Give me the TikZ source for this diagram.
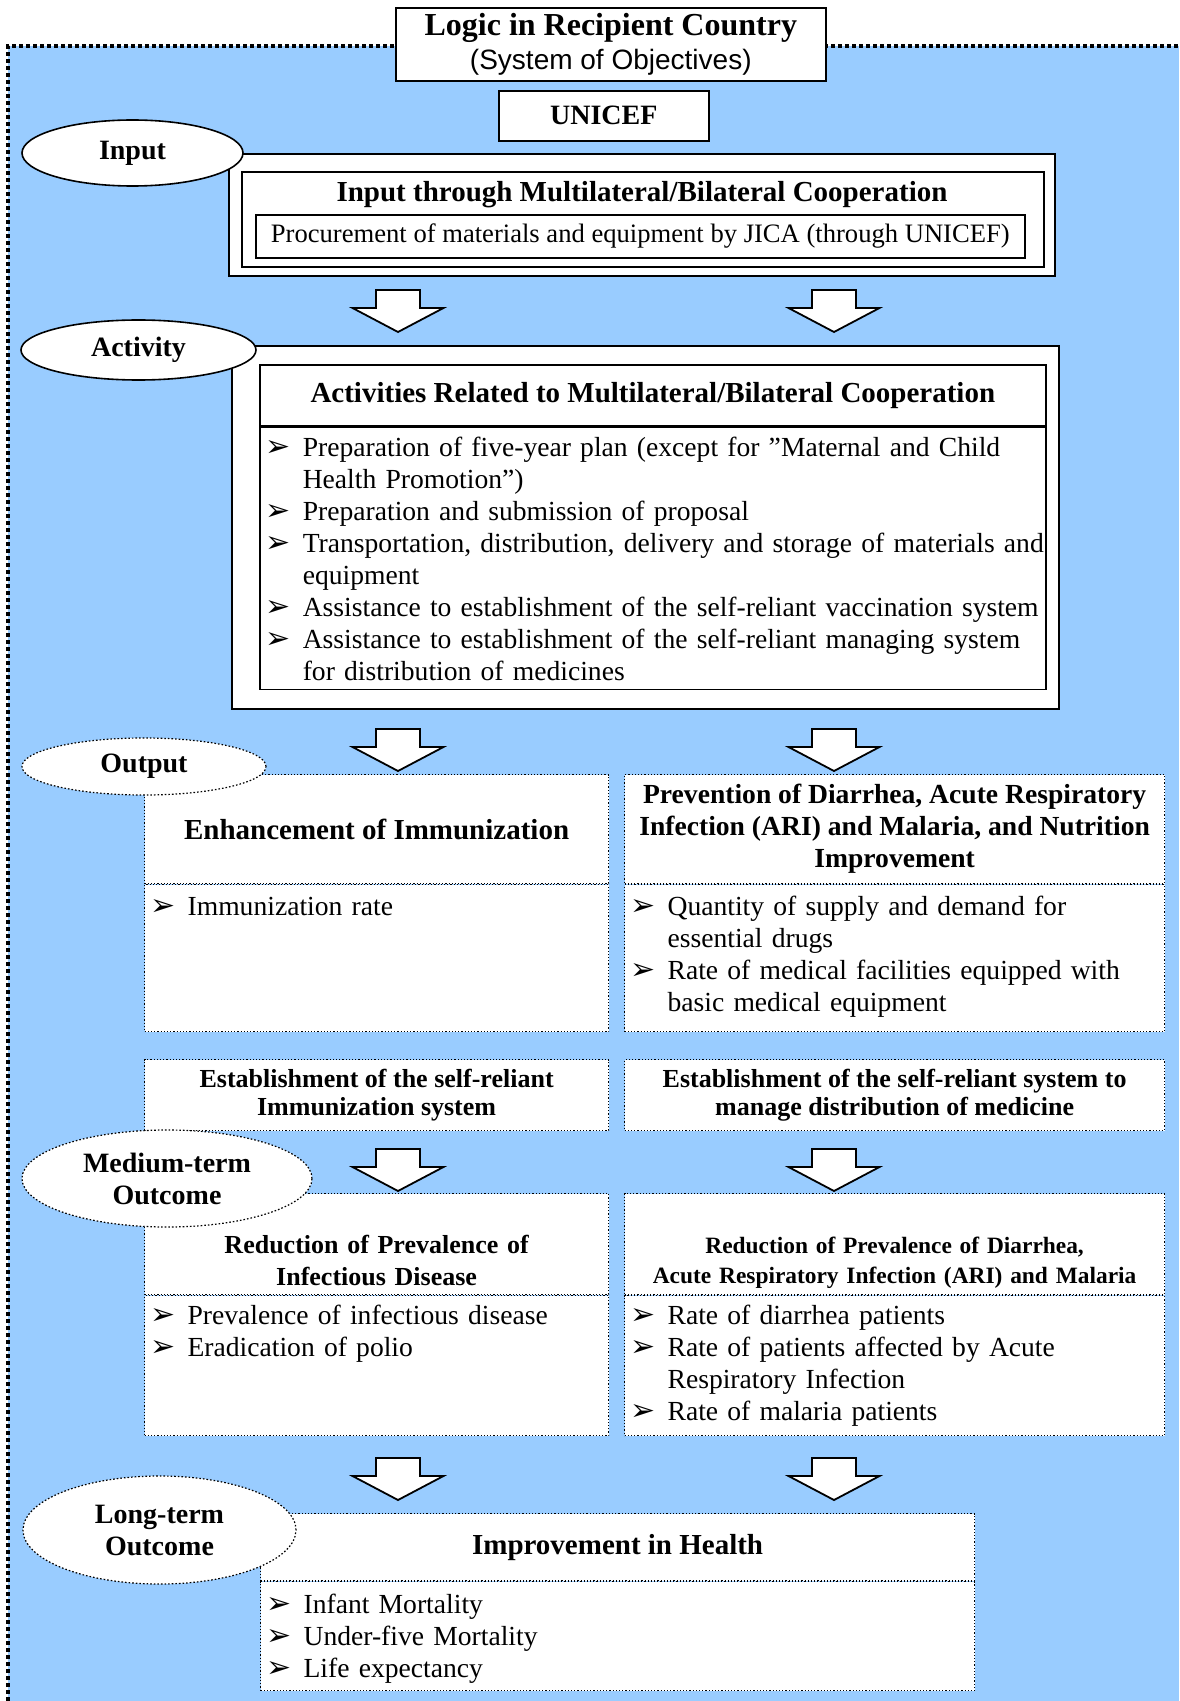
\documentclass[tikz,border=0pt]{standalone}
\usepackage{fontspec}
\setmainfont{Liberation Serif}
\setsansfont{Liberation Sans}
\newfontfamily\dingfont{DejaVu Sans}
\usepackage{xcolor}
\usepackage{tikz}
\usetikzlibrary{shapes, positioning, calc}

\definecolor{skyblue}{HTML}{99CCFF}

% bullet item with hanging indent, one paragraph per item
\newcommand{\itm}[1]{\noindent\hangindent=21.5pt\hangafter=1\rightskip=-30pt plus 1fil%
  \makebox[21.5pt][l]{\hspace{3pt}{\dingfont\fontsize{15}{15}\selectfont ➢}}#1\par}

\begin{document}
\begin{tikzpicture}[
        x=1pt, y=-1pt,
        every node/.style={font=\fontsize{13.8}{16}\selectfont},
        solidbox/.style={rectangle, draw, line width=0.8pt, fill=white, anchor=north west, inner sep=0pt},
        dotbox/.style={rectangle, draw, densely dotted, line width=0.6pt, fill=white, anchor=north west, inner sep=0pt},
        headtext/.style={font=\fontsize{14.5}{16}\selectfont\bfseries, align=center},
        itemlist/.style={align=left, text height=15.5pt},
        stagetag/.style={ellipse, draw, line width=0.8pt, fill=white, inner sep=0pt, align=center, font=\fontsize{14}{16}\selectfont\bfseries},
        dstagetag/.style={stagetag, densely dotted, line width=0.6pt},
        blockarrow/.pic={\draw [line width=0.9pt, fill=white] (-11,0) -- (11,0) -- (11,9) -- (22.75,9) -- (0,21) -- (-22.75,9) -- (-11,9) -- cycle;}
    ]

    \useasboundingbox (0,0) rectangle (589.5,850.5);
    \fill [skyblue] (4,23) rectangle (589.5,850.5);
    \draw [line width=2pt, dash pattern=on 2pt off 1.5pt] (4,850.5) -- (4,23) -- (589.5,23);

    % title
    \node [solidbox, align=center, minimum width=215pt, minimum height=36.5pt] (logic) at (197.5,3.5)
        {{\fontsize{16}{17}\selectfont\bfseries Logic in Recipient Country}\\[1pt]{\fontsize{14}{16}\selectfont\sffamily (System of Objectives)}};
    \node [solidbox, font=\fontsize{14}{16}\selectfont\bfseries, minimum width=105pt, minimum height=25pt] (unicef) at (249,45) {UNICEF};

    % input
    \node [solidbox, minimum width=413pt, minimum height=61pt] (inbox) at (114,76.5) {};
    \node [solidbox, minimum width=401pt, minimum height=47.5pt] (inmid) at (120.5,85.5) {};
    \node [headtext] (intitle) at (321,97.5) {Input through Multilateral/Bilateral Cooperation};
    \node [solidbox, font=\fontsize{13.3}{16}\selectfont, minimum width=384.5pt, minimum height=21.5pt] (inproc) at (127.5,107)
        {Procurement of materials and equipment by JICA (through UNICEF)};

    % activity
    \node [solidbox, minimum width=413.5pt, minimum height=181.5pt] (actbox) at (115.5,172.5) {};
    \node [solidbox, headtext, minimum width=393pt, minimum height=30.5pt] (acttitle) at (129.5,182)
        {Activities Related to Multilateral/Bilateral Cooperation};
    \node [solidbox, itemlist, text width=393pt, text height=14.5pt, text depth=116.5pt, below=0pt of acttitle] (actlist) {%
        \itm{Preparation of five-year plan (except for ”Maternal and Child\newline Health Promotion”)}%
        \itm{Preparation and submission of proposal}%
        \itm{Transportation, distribution, delivery and storage of materials and\newline equipment}%
        \itm{Assistance to establishment of the self-reliant vaccination system}%
        \itm{Assistance to establishment of the self-reliant managing system\newline for distribution of medicines}};

    % output
    \node [dotbox, headtext, minimum width=232pt, minimum height=54.5pt] (immun) at (72,387) {Enhancement of Immunization};
    \node [dotbox, itemlist, text width=232pt, text depth=58pt, below=0pt of immun] (immunlist) {%
        \itm{Immunization rate}};
    \node [dotbox, headtext, font=\fontsize{13.8}{16}\selectfont\bfseries, minimum width=270pt, minimum height=54.5pt] (prevent) at (312,387)
        {Prevention of Diarrhea, Acute Respiratory\\Infection (ARI) and Malaria, and Nutrition\\Improvement};
    \node [dotbox, itemlist, text width=270pt, text depth=58pt, below=0pt of prevent] (preventlist) {%
        \itm{Quantity of supply and demand for\newline essential drugs}%
        \itm{Rate of medical facilities equipped with\newline basic medical equipment}};

    \node [dotbox, align=center, font=\fontsize{13}{14}\selectfont\bfseries, minimum width=232pt, minimum height=35.5pt] (estimmun) at (72,529.5)
        {Establishment of the self-reliant\\Immunization system};
    \node [dotbox, align=center, font=\fontsize{13}{14}\selectfont\bfseries, minimum width=270pt, minimum height=35.5pt] (estmed) at (312,529.5)
        {Establishment of the self-reliant system to\\manage distribution of medicine};

    % medium-term outcome
    \node [dotbox, headtext, font=\fontsize{13}{16}\selectfont\bfseries, text width=232pt, text height=30pt, text depth=20.5pt] (infect) at (72,596.5)
        {Reduction of Prevalence of\\Infectious Disease};
    \node [dotbox, itemlist, text width=232pt, text height=14.5pt, text depth=55.5pt, below=0pt of infect] (infectlist) {%
        \itm{Prevalence of infectious disease}%
        \itm{Eradication of polio}};
    \node [dotbox, headtext, font=\fontsize{11.7}{15}\selectfont\bfseries, text width=270pt, text height=30pt, text depth=20.5pt] (diarr) at (312,596.5)
        {Reduction of Prevalence of Diarrhea,\\Acute Respiratory Infection (ARI) and Malaria};
    \node [dotbox, itemlist, text width=270pt, text height=14.5pt, text depth=55.5pt, below=0pt of diarr] (diarrlist) {%
        \itm{Rate of diarrhea patients}%
        \itm{Rate of patients affected by Acute\newline Respiratory Infection}%
        \itm{Rate of malaria patients}};

    % long-term outcome
    \node [dotbox, headtext, minimum width=357pt, minimum height=33.5pt] (health) at (130,756.5) {Improvement in Health};
    \node [dotbox, itemlist, text width=357pt, text height=16pt, text depth=38.5pt, below=0pt of health] (healthlist) {%
        \itm{Infant Mortality}%
        \itm{Under-five Mortality}%
        \itm{Life expectancy}};

    % block arrows
    \foreach \ay in {145, 364.5, 574.5, 729}
    {
        \pic at (199,\ay) {blockarrow};
        \pic at (417,\ay) {blockarrow};
    }

    % stage labels
    \node [stagetag, minimum width=110.5pt, minimum height=33pt] (input) at (66.25,76.5) {Input};
    \node [stagetag, minimum width=117.5pt, minimum height=30pt] (activity) at (69.25,175) {Activity};
    \node [dstagetag, minimum width=122pt, minimum height=28.5pt] (output) at (72,383.25) {Output};
    \node [dstagetag, minimum width=145pt, minimum height=48.5pt] (medium) at (83.5,589.25) {Medium-term\\Outcome};
    \node [dstagetag, minimum width=136.5pt, minimum height=54pt] (long) at (79.75,765) {Long-term\\Outcome};

\end{tikzpicture}
\end{document}
